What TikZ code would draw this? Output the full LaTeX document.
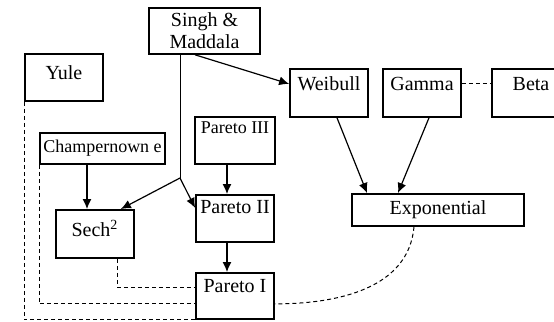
\documentclass[tikz,border=0pt]{standalone}
\usepackage{fontspec}
\setmainfont{Liberation Serif}
\usetikzlibrary{arrows.meta}

\begin{document}
\begin{tikzpicture}[->,>={Latex[length=5pt,width=4.5pt]},line width=0.6pt,x=0.5pt,y=-0.5pt,font=\fontsize{10}{11}\selectfont]
\tikzstyle{box}=[shape=rectangle,draw=black,line width=0.9pt,inner xsep=0pt,inner ysep=0pt,anchor=north]
\tikzstyle{link}=[-,line width=0.5pt,dash pattern=on 2pt off 1.5pt]
\useasboundingbox (0,0) rectangle (554,322);
\node[box,minimum width=55.5pt,minimum height=23pt,align=center] (SM) at (204.5,7) {Singh \&\\Maddala};
\node[box,minimum width=39pt,text height=13pt,text depth=10.5pt] (Yule) at (64,53) {Yule};
\node[box,minimum width=62.5pt,text height=10pt,text depth=5.5pt,font=\fontsize{9}{10}\selectfont] (Champ) at (102.5,132) {Champernown e};
\node[box,minimum width=40pt,text height=8.5pt,text depth=15pt,font=\fontsize{9}{10}\selectfont] (P3) at (235,116) {Pareto III};
\node[box,minimum width=39pt,text height=11pt,text depth=13pt] (Weib) at (329,68) {Weibull};
\node[box,minimum width=39pt,text height=11pt,text depth=13pt] (Gam) at (422,68) {Gamma};
\node[box,minimum width=39pt,text height=11pt,text depth=13pt] (Beta) at (531,68) {Beta};
\node[box,minimum width=86pt,text height=10.5pt,text depth=5.5pt] (Exp) at (438,193) {Exponential};
\node[box,minimum width=39pt,text height=13.5pt,text depth=10.5pt] (Sech) at (95,209) {Sech\textsuperscript{2}};
\node[box,minimum width=39pt,text height=9.5pt,text depth=14pt] (P2) at (235,194) {Pareto II};
\node[box,minimum width=39pt,text height=10pt,text depth=13pt] (P1) at (235,272) {Pareto I};
\coordinate (br) at (180,178);
\draw ([xshift=-4.75pt]SM.south) -- ([yshift=4.5pt]Weib.west);
\draw[-,line width=0.4pt] ([xshift=-12.25pt]SM.south) -- (br);
\draw (br) -- ([xshift=-7pt]Sech.north east);
\draw (br) -- ([yshift=5.25pt]P2.west);
\draw ([xshift=-7.75pt]Champ.south) -- ([xshift=-4pt]Sech.north);
\draw ([xshift=-4pt]P3.south) -- ([xshift=-4pt]P2.north);
\draw ([xshift=-4pt]P2.south) -- ([xshift=-4pt]P1.north);
\draw ([xshift=4pt]Weib.south) -- ([xshift=-35.5pt]Exp.north);
\draw ([xshift=3.5pt]Gam.south) -- ([xshift=-20pt]Exp.north);
\draw[link] ([yshift=4.5pt]Gam.east) -- ([yshift=4.5pt]Beta.west);
\draw[link] ([xshift=11.5pt]Sech.south) |- ([yshift=4pt]P1.west);
\draw[link] (Champ.south west) |- ([yshift=-4pt]P1.west);
\draw[link] (Yule.south west) |- (P1.south west);
\draw[link] ([xshift=-12pt]Exp.south) to[out=-95,in=0] ([yshift=-4pt]P1.east);
\end{tikzpicture}
\end{document}
